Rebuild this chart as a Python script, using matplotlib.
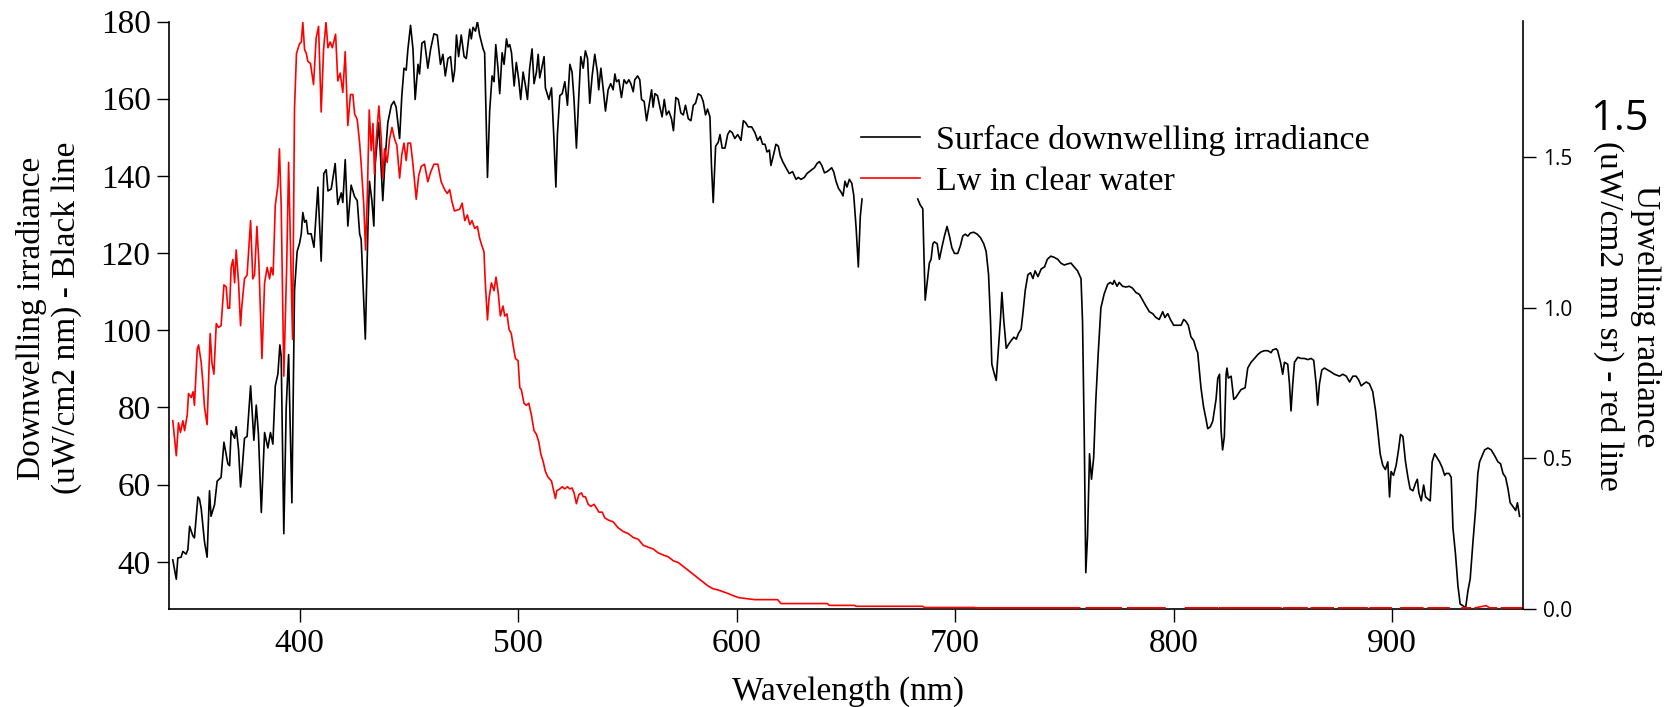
import matplotlib
matplotlib.use("Agg")
import matplotlib.pyplot as plt
import numpy as np

nan = np.nan

# surface downwelling irradiance (black line, left axis)
black_wl = [342.0, 343.6, 344.3, 345.8, 346.6, 348.1, 348.9, 349.7, 351.2, 351.9, 353.5, 354.2, 355.0,
            356.5, 357.7, 358.8, 359.5, 361.1, 362.3, 364.1, 365.4, 367.2, 368.0, 368.7, 370.3, 371.0,
            372.1, 373.0, 373.6, 374.8, 376.0, 377.6, 379.1, 380.2, 381.2, 382.5, 384.0, 385.5, 386.7,
            387.8, 388.9, 390.1, 391.0, 391.6, 392.8, 393.9, 395.0, 396.5, 397.7, 398.9, 400.0, 400.8,
            401.5, 402.3, 403.1, 403.8, 405.3, 406.6, 408.4, 409.9, 411.1, 412.2, 413.0, 414.5, 416.3,
            417.5, 419.1, 419.8, 420.9, 422.1, 423.6, 425.2, 426.4, 427.5, 428.2, 429.0, 430.1, 431.3,
            432.0, 433.1, 434.0, 434.6, 436.2, 437.1, 438.1, 439.2, 440.4, 442.0, 443.2, 444.2, 445.8,
            446.8, 447.8, 448.8, 449.6, 450.8, 451.9, 452.9, 454.2, 454.9, 456.0, 457.2, 458.7, 460.0,
            461.5, 463.0, 464.5, 465.6, 466.7, 467.9, 469.1, 470.2,
            471.0, 471.8, 472.8, 474.0, 475.3, 476.3, 477.9, 478.6, 479.4, 480.5, 481.4, 482.4, 484.0,
            484.7, 486.0, 487.0, 488.1, 489.0, 489.8, 490.8, 491.6, 492.7, 493.6, 494.7, 495.4, 496.2,
            497.0, 498.2, 499.2, 500.3, 501.2, 502.3, 503.4, 504.3, 505.3, 506.4, 507.3, 508.4, 509.2,
            509.9, 511.0, 511.9, 512.5, 514.1, 515.3, 516.4, 517.3, 518.0, 519.1, 520.2, 521.4, 522.6,
            523.7, 524.7, 525.6, 526.7, 527.8, 528.7, 529.8, 530.8, 531.8, 532.8, 533.9, 535.1, 536.3,
            536.9, 537.9, 538.9, 540.0, 541.2, 542.4, 543.5, 544.3, 545.0, 546.1, 547.3, 548.5, 549.6,
            550.7, 551.6, 552.7, 553.4, 554.7, 555.7, 556.5, 557.7, 558.8, 559.8, 561.1, 561.8, 562.6,
            563.8, 564.9, 565.9, 566.9, 567.9, 569.0, 570.2, 571.1, 572.2, 573.3, 574.5, 575.6, 576.6,
            577.9, 579.1, 580.2, 581.2, 582.4, 583.7, 584.7, 585.8, 586.7, 587.8, 588.5, 589.3, 590.4,
            591.6, 592.4, 593.4, 594.7, 595.9, 596.9, 598.0, 599.2, 600.5, 602.0, 603.1, 604.1, 605.3,
            606.9, 608.4,
            609.6, 610.8, 611.9, 613.0, 613.9, 615.0, 615.7, 617.0, 618.0, 619.1, 620.0, 621.1, 622.6,
            624.1, 625.6, 627.2, 628.2, 629.5, 631.0, 632.2, 633.3, 634.4, 635.6, 636.8, 637.9, 639.0,
            640.2, 641.4, 642.5, 643.5, 644.4, 645.5, 646.6, 647.8, 648.7, 649.6, 650.5, 651.6, 652.7,
            653.6, 654.7, 655.7, 656.6, 657.4, 670.0, 682.9, 684.0, 685.2, 685.6, 686.3, 687.2, 688.2,
            689.0, 689.8, 690.5, 691.8, 692.8, 693.9, 695.1, 696.3, 697.4, 698.5, 699.7, 701.2, 702.4,
            703.5, 704.6, 705.8, 707.0, 708.5, 710.1, 711.6, 713.1, 714.2, 715.3, 716.2, 716.8, 717.7,
            718.8, 719.8, 720.8, 721.4, 722.3, 723.4, 724.4, 725.6, 726.9, 728.0, 729.0, 730.2, 731.0,
            732.1, 733.3, 734.5, 735.6, 736.6, 737.9, 739.4, 740.9,
            742.2, 743.8, 745.3, 746.9, 748.4, 749.9, 751.5, 753.0, 754.5, 756.0, 757.6, 758.3, 759.1,
            759.8, 760.6, 761.5, 762.4, 763.4, 764.4, 765.5, 766.7, 768.2, 769.8, 771.0, 772.1, 772.8,
            774.1, 775.1, 776.6, 778.2, 779.7, 781.2, 782.7, 784.3, 785.8, 787.3, 788.9, 790.4, 791.9,
            793.4, 795.0, 796.0, 797.3, 798.5, 800.0, 801.5, 803.4, 804.6, 805.6, 806.7, 807.9, 809.2,
            810.2, 811.0, 811.8, 812.5, 813.7, 814.8, 815.6, 816.8, 817.9, 819.4, 820.2, 821.0, 821.7,
            822.4, 823.2, 824.0, 824.4, 825.0, 826.3, 827.5, 828.5, 829.6, 830.8, 832.7, 833.9, 835.4,
            837.0, 838.5, 840.0, 841.5, 843.1, 844.6, 845.3, 846.9, 847.6, 848.9, 849.9, 850.7, 852.2,
            853.0, 853.7, 854.5, 855.3, 856.8, 858.3, 859.8, 861.4, 862.9, 864.1, 865.2, 865.9, 866.7,
            867.8, 869.0, 870.5, 872.0, 873.6,
            875.9, 877.4, 879.0, 880.5, 882.0, 883.5, 884.7, 885.8, 886.9, 888.1, 889.6, 891.1, 892.4,
            893.4, 894.5, 895.7, 896.9, 898.0, 898.8, 899.5, 900.6, 901.8, 902.9, 903.8, 904.9, 906.1,
            907.2, 908.2, 909.5, 910.7, 911.5, 912.2, 913.3, 914.4, 915.3, 916.3, 917.4, 918.3, 919.4,
            920.5, 921.7, 922.9, 924.0, 924.7, 926.0, 927.0, 927.8, 929.0, 930.1, 931.1, 932.4, 933.6,
            934.7, 935.7, 936.9, 938.2, 939.2, 940.0, 941.2, 942.3, 943.8, 945.3, 946.9, 948.4, 949.6,
            950.7, 951.9, 953.0, 954.0, 955.3, 956.5, 957.3, 958.3]
black_val = [40.5, 35.5, 41, 41.2, 42.7, 42, 43.2, 49.2, 46.7, 46.2, 56.8, 56.3, 53.8,
             45.2, 41.2, 58.4, 51.8, 54.8, 60.9, 61.9, 71, 65.4, 64.9, 74, 72, 75,
             69, 59.4, 62.9, 72, 72.5, 85.6, 71.5, 80.6, 73, 52.8, 73.5, 69.5, 73.5,
             70.5, 85.6, 88.7, 96.2, 93.2, 47.3, 80, 93.7, 55.3, 110.3, 120.4, 122.5, 125,
             130.5, 128, 128.5, 125, 125, 121.5, 137.1, 117.9, 140.6, 141.6, 136.1, 136.6, 143.2,
             132.6, 135.6, 133.1, 144.2, 127, 137.6, 134.6, 133.6, 125, 123.5, 112.4, 97.7, 126.5,
             138.6, 133.6, 127, 142.7, 153.8, 144.7, 133.6, 144.7, 153.8, 158.3, 159.3, 157.8, 149.7,
             160.8, 167.9, 167.4, 172.9, 179, 172.9, 159.8, 168.9, 166.4, 174.4, 174.9, 167.9, 172.9,
             176.8, 176.5, 168.9, 171.5, 165.9, 170.4, 170.9, 164.4,
             167.4, 176.5, 170.9, 176.5, 170.9, 170.4, 178, 175.5, 178.5, 177.5, 180, 176.5, 172.9,
             171.9, 139.6, 156.8, 165.9, 164.4, 174, 167.9, 161.3, 171.9, 168.9, 175.5, 173.4, 174,
             171.9, 163.3, 169.4, 164.9, 159.8, 166.9, 163.3, 159.8, 167.9, 172.9, 163.9, 166.9, 171.5,
             165.4, 168.4, 170.9, 162.8, 159.8, 162.8, 149.7, 137.1, 150.7, 160.8, 161.3, 164.4, 158.3,
             168.9, 166.9, 159.8, 147.2, 160.8, 170.9, 167.9, 172.4, 170.4, 158.8, 165.9, 171.5, 166.9,
             162.3, 167.9, 162.8, 156.8, 162.3, 163.9, 162.3, 166.4, 164.4, 164.9, 160.3, 164.9, 163.9,
             164.9, 163.9, 161.8, 164.9, 165.9, 164.9, 159.8, 159.3, 154.3, 157.8, 162.3, 157.8, 161.3,
             160.8, 157.8, 155.3, 159.8, 155.8, 156.8, 154.8, 151.7, 160.3, 159.8, 156.3, 155.8, 158.3,
             154.8, 154.3, 158.3, 158.8, 161.3, 160.8, 159.3, 155.8, 157.3, 155.3, 142.7, 133.1, 147.7,
             148.7, 150.7, 147.2, 147.2, 150.7, 151.7, 151.2, 149.7, 150.7, 149.2, 154.3, 153.8, 152.7,
             152.7, 151.2,
             149.2, 150.2, 148.2, 148.2, 146.2, 146.7, 142.7, 145.7, 148.2, 147.7, 145.2, 143.7, 142.1,
             140.6, 141.1, 139.1, 139.6, 139.1, 139.6, 140.6, 141.1, 141.6, 142.1, 143.2, 143.7, 142.7,
             140.8, 141.1, 141.6, 142.1, 141.1, 138.6, 136.8, 135.8, 134.8, 138.6, 137.1, 139.1, 138.1,
             135, 126.5, 116.4, 129.5, 134, nan, 134, 132.5, 131.5, 122.4, 107.8, 112.3, 117.4,
             118.4, 122.4, 122.9, 122.4, 118.4, 121.4, 124.4, 126.9, 124.4, 121.4, 119.9, 119.9, 121.9,
             124.4, 124.9, 124.4, 125.2, 125.4, 124.9, 124, 122.4, 120.4, 114.4, 102.3, 91.2, 89.2,
             87, 95.3, 103.3, 109.8, 102.3, 95.3, 96.3, 97.3, 98.2, 97.7, 99.2, 100.3, 104.3,
             110.4, 114.4, 114.9, 113.4, 115.4, 113.9, 115.9, 116.4,
             118.4, 119.2, 118.9, 118.4, 117.4, 116.9, 117.2, 117.4, 116.4, 115.4, 113.4, 102.3, 72,
             37.2, 46.8, 68, 61.4, 67, 82.1, 94.2, 105.8, 109.4, 111.9, 112.4, 111.9, 112.9,
             111.4, 112.4, 111.4, 111.2, 111.4, 110.9, 109.8, 109.3, 107.8, 106.3, 104.8, 104.3, 103.3,
             102.8, 104.8, 103.3, 104.3, 102.8, 101.3, 101.3, 101.3, 102.8, 102.3, 101.3, 98.3, 97.3,
             95.3, 94.2, 89.2, 85.1, 80.1, 77, 74.5, 75, 76.5, 82.1, 87.6, 88.6, 74,
             69, 72.5, 88.6, 90.2, 87.6, 88.1, 82.1, 82.6, 83.6, 84.6, 85.1, 90.2, 91.7,
             92.7, 93.7, 94.4, 94.7, 94.7, 94.2, 94.9, 95.2, 94.7, 91.7, 88.6, 91.7, 91.2,
             86.1, 79.1, 86.1, 91.7, 93, 92.7, 92.7, 92.4, 92.7, 92.2, 86.1, 80.6, 86.1,
             89.7, 90.2, 89.7, 89.2, 88.6,
             88.1, 88.6, 88.1, 86.6, 88.1, 88.1, 87.1, 85.6, 86.1, 86.6, 86.1, 84.1, 79.1,
             74, 68, 65, 63.9, 65.9, 56.8, 63.4, 62.4, 65, 69, 73, 72.5, 65.9,
             61.9, 58.9, 58.4, 60.4, 61.4, 57.9, 55.8, 59.9, 56.8, 56.3, 55.8, 65.9, 68,
             67, 65.9, 64.4, 62.4, 62.9, 62.9, 61.9, 48.8, 41.8, 33.7, 29.1, 28.6, 28.1,
             32.6, 35.6, 44.7, 53.8, 62.9, 65.9, 67.5, 69, 69.5, 69, 67.5, 65.9, 65.4,
             62.9, 61.9, 58.9, 55.3, 54.3, 53.3, 55.3, 51.8]

# water-leaving radiance Lw (red line, right axis)
red_wl = [342.0, 343.6, 344.6, 345.5, 346.6, 347.4, 348.6, 349.2, 350.4, 351.3, 351.9, 353.2, 353.8,
          355.0, 355.8, 356.5, 357.7, 359.1, 359.9, 360.8, 361.9, 362.9, 364.1, 365.4, 366.4, 367.2,
          368.0, 368.7, 369.5, 370.3, 371.0, 372.1, 373.0, 373.6, 374.8, 376.0, 377.6, 378.6, 379.4,
          380.5, 381.4, 382.8, 384.0, 385.2, 386.3, 387.0, 387.9, 388.9, 390.1, 390.8, 391.6, 392.8,
          394.1, 395.0, 395.9, 396.8, 397.7, 398.6, 400.0, 400.8, 401.5, 402.3, 403.1, 403.8, 405.0,
          406.4, 407.6, 408.7, 409.9, 411.0, 412.1, 413.0, 414.0, 415.0, 416.5, 417.5, 418.6, 419.8,
          420.9, 422.1, 423.3, 424.4, 425.2, 426.4, 427.5, 428.2, 429.4, 430.2, 431.0, 431.9, 432.8,
          433.6, 434.3, 435.1, 436.3, 437.4, 438.1, 438.9, 440.1, 441.2, 442.3, 443.5, 444.5, 445.8,
          446.8, 447.8, 448.8, 449.6, 450.8, 451.9, 453.4, 454.5, 455.7, 457.2, 458.7, 460.0, 461.5,
          463.3, 464.8, 466.4, 467.6, 468.7, 469.7, 470.9,
          473.3, 474.4, 475.6, 476.8, 477.9, 478.9, 480.2, 481.4, 482.4, 483.5, 484.4, 485.0, 486.0,
          486.7, 487.8, 489.0, 489.9, 490.8, 491.9, 493.1, 493.9, 494.9, 495.9, 496.9, 497.7, 498.8,
          500.0, 500.8, 501.5, 502.7, 503.8, 504.9, 506.1, 507.3, 508.4, 509.5, 510.4, 511.5, 512.5,
          513.7, 515.3, 516.3, 517.1, 517.7, 519.1, 520.2, 521.4, 522.6, 523.7, 524.7, 525.6, 526.7,
          527.8, 529.0, 529.8, 530.8, 532.1, 533.3, 534.8, 535.9, 537.0, 538.5, 539.7, 541.2, 543.5,
          545.8, 548.1, 550.4, 552.7, 555.0, 557.3, 559.5, 561.8, 564.1, 566.4, 568.7, 571.0, 573.3,
          575.6, 577.9, 580.2, 582.4, 584.7, 587.0, 589.3, 591.6, 593.9, 596.2, 598.5, 600.8, 603.8,
          608.4, 618.8, 620.3, 641.6, 642.4, 653.9, 654.7, 685.2, 686.0, 708.9, 709.6]
red_val = [0.625, 0.509, 0.618, 0.586, 0.625, 0.592, 0.644, 0.715, 0.702, 0.721, 0.676, 0.863, 0.876,
           0.818, 0.747, 0.670, 0.612, 0.914, 0.818, 0.779, 0.947, 0.934, 0.940, 1.075, 1.069, 0.998,
           0.998, 1.133, 1.159, 1.082, 1.191, 1.082, 0.940, 1.005, 1.095, 1.108, 1.288, 1.095, 1.108,
           1.269, 1.146, 0.831, 1.082, 1.133, 1.095, 1.133, 1.108, 1.339, 1.404, 1.526, 1.339, 0.773,
           1.133, 1.481, 1.185, 0.895, 1.661, 1.842, 1.874, 1.880, 1.945, 1.855, 1.842, 1.816, 1.809,
           1.739, 1.893, 1.932, 1.648, 1.855, 1.945, 1.861, 1.880, 1.861, 1.906, 1.751, 1.777, 1.713,
           1.848, 1.603, 1.706, 1.706, 1.642, 1.623, 1.545, 1.475, 1.339, 1.191, 1.365, 1.655, 1.520,
           1.610, 1.442, 1.558, 1.668, 1.558, 1.429, 1.526, 1.481, 1.558, 1.597, 1.558, 1.539, 1.429,
           1.507, 1.545, 1.487, 1.545, 1.545, 1.475, 1.359, 1.436, 1.468, 1.475, 1.417, 1.449, 1.475,
           1.475, 1.417, 1.391, 1.378, 1.391, 1.352, 1.320,
           1.326, 1.346, 1.288, 1.307, 1.275, 1.288, 1.262, 1.269, 1.230, 1.204, 1.185, 1.082, 0.959,
           1.030, 1.082, 1.056, 1.101, 1.056, 0.972, 1.005, 0.972, 0.979, 0.927, 0.914, 0.876, 0.831,
           0.824, 0.734, 0.728, 0.683, 0.676, 0.683, 0.644, 0.592, 0.580, 0.554, 0.515, 0.489, 0.457,
           0.438, 0.425, 0.393, 0.367, 0.393, 0.399, 0.406, 0.399, 0.406, 0.399, 0.402, 0.386, 0.350,
           0.380, 0.386, 0.373, 0.373, 0.348, 0.341, 0.348, 0.335, 0.322, 0.322, 0.303, 0.296, 0.290,
           0.270, 0.258, 0.251, 0.238, 0.232, 0.212, 0.206, 0.200, 0.187, 0.180, 0.174, 0.161, 0.155,
           0.142, 0.129, 0.116, 0.103, 0.090, 0.077, 0.068, 0.064, 0.058, 0.052, 0.045, 0.039, 0.036,
           0.032, 0.032, 0.019, 0.019, 0.013, 0.013, 0.010, 0.010, 0.006, 0.006, 0.005]

# near-zero tail of Lw, broken where the data drop out
red_tail_wl = [757.0, 758.0, 760.0, 776.0, 777.0, 779.0, 796.0, 797.0, 805.5, 820.0, 820.5, 821.0,
               849.0, 849.8, 850.5, 861.0, 862.0, 863.0, 873.0, 874.0, 875.5, 888.5, 889.2, 890.0,
               899.5, 901.0, 904.0, 914.0, 915.0, 916.5, 926.0, 928.0, 932.0, 935.7, 936.8, 938.0,
               943.0, 944.5, 947.7, 948.8, 950.0, 959.5]
red_tail_val = [0.005, nan, 0.005, 0.005, nan, 0.005, 0.005, nan, 0.005, 0.005, nan, 0.005,
                0.005, nan, 0.005, 0.005, nan, 0.005, 0.005, nan, 0.005, 0.005, nan, 0.005,
                0.005, nan, 0.005, 0.005, nan, 0.005, 0.005, nan, 0.005, 0.005, nan, 0.005,
                0.012, 0.005, 0.005, nan, 0.005, 0.005]

x_ticks = [400, 500, 600, 700, 800, 900]
left_ticks = [40, 60, 80, 100, 120, 140, 160, 180]
right_ticks = [0.0, 0.5, 1.0, 1.5]

plt.rcParams['font.family'] = ['Liberation Serif', 'DejaVu Serif']

W, H = 1674, 707
fig = plt.figure(figsize=(W / 100, H / 100), dpi=100)
# axes box in pixels: left 169, right 1523, top 21.5, bottom 609
ax = fig.add_axes([169.3 / W, 1 - 609.3 / H, (1523.3 - 169.3) / W, (609.3 - 21.5) / H])
ax2 = ax.twinx()

l1, = ax.plot(black_wl, black_val, color='black', lw=1.2, label='Surface downwelling irradiance')
l2, = ax2.plot(red_wl + red_tail_wl, red_val + red_tail_val, color='red', lw=1.2,
               label='Lw in clear water')

ax.set_xlim(340.4, 960)
ax.set_ylim(27.7, 180)
ax2.set_ylim(0, 1.948)

ax.set_xticks(x_ticks)
ax.set_yticks(left_ticks)
ax2.set_yticks(right_ticks)
ax2.set_yticklabels(['%.1f' % t for t in right_ticks], family='Open Sans', fontsize=15)

ax.tick_params(axis='x', direction='out', length=9.5, width=1.0, pad=4.5, labelsize=24)
ax.tick_params(axis='y', direction='out', length=9, width=1.0, pad=4.5, labelsize=24)
ax2.tick_params(axis='y', direction='out', length=9.5, width=1.0, pad=5)

for s in ['top', 'right']:
    ax.spines[s].set_visible(False)
for s in ['top', 'left', 'bottom']:
    ax2.spines[s].set_visible(False)
ax.spines['left'].set_linewidth(1.2)
ax.spines['bottom'].set_linewidth(1.2)
ax2.spines['right'].set_linewidth(1.2)

# axis titles
fig.text(848 / W, 1 - 700 / H, 'Wavelength (nm)', fontsize=24, ha='center', va='baseline')
fig.text(49 / W, 1 - 318 / H, 'Downwelling irradiance\n(uW/cm2 nm) - Black line',
         fontsize=24, rotation=90, ha='center', va='center', multialignment='center')
fig.text(1627 / W, 1 - 316 / H, 'Upwelling radiance\n(uW/cm2 nm sr) - red line',
         fontsize=24, rotation=270, ha='center', va='center', multialignment='center')
fig.text(1619 / W, 1 - 130 / H, '1.5', family='Open Sans', fontsize=30, ha='center', va='baseline')

fig.legend(handles=[l1, l2], loc='upper left', bbox_to_anchor=(861 / W, 1 - 125 / H),
           frameon=False, fontsize=24.5, handlelength=1.74, handletextpad=0.45,
           labelspacing=0.3, borderpad=0, borderaxespad=0)

fig.savefig('out.png', dpi=100)
